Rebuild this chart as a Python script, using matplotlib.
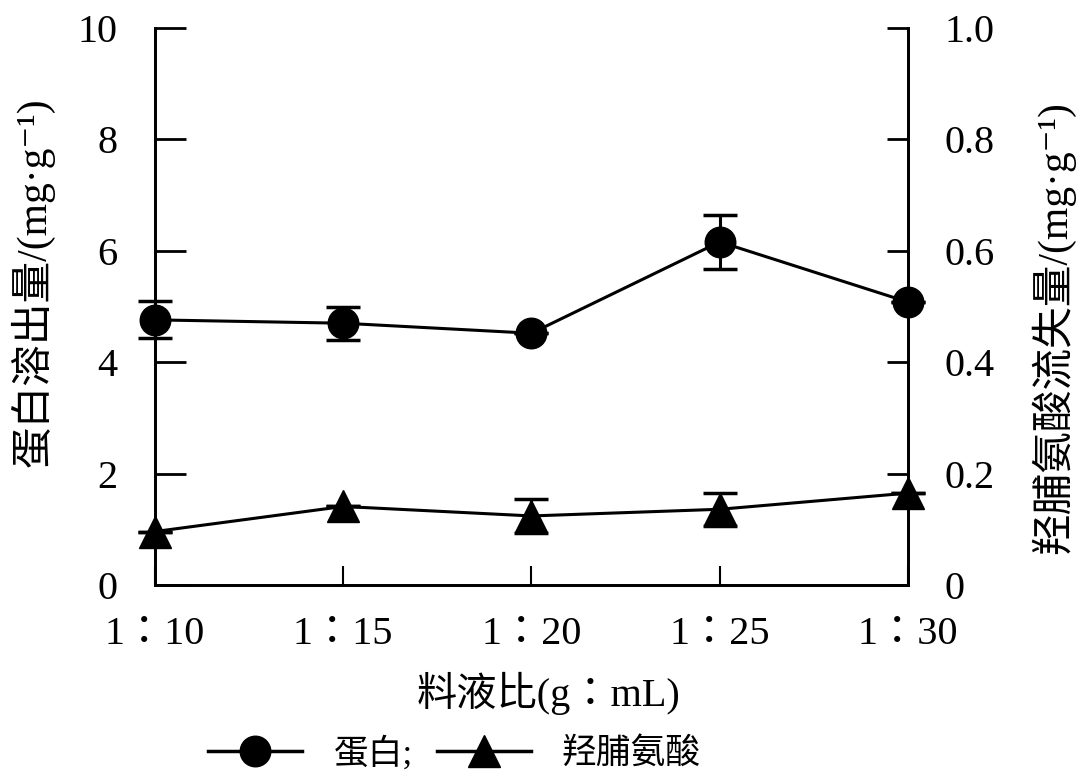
import matplotlib
matplotlib.use('Agg')
import matplotlib.pyplot as plt
from matplotlib.lines import Line2D
from matplotlib.transforms import ScaledTranslation

plt.rcParams['font.family'] = ['Liberation Serif', 'Noto Sans CJK SC', 'DejaVu Serif']
tc_fonts = ['Liberation Serif', 'Noto Sans CJK TC', 'DejaVu Serif']  # centred full-width colon

# data
ratios = ['1：10', '1：15', '1：20', '1：25', '1：30']
protein = [4.76, 4.70, 4.52, 6.16, 5.08]          # mg/g, left axis
protein_err = [0.33, 0.30, 0.0, 0.49, 0.0]
hyp = [0.096, 0.141, 0.124, 0.136, 0.165]          # mg/g, right axis
hyp_err = [0.0, 0.0, 0.03, 0.03, 0.0]

left_ticks = [0, 2, 4, 6, 8, 10]
right_ticks = [0, 0.2, 0.4, 0.6, 0.8, 1.0]
right_ticklabels = ['0', '0.2', '0.4', '0.6', '0.8', '1.0']

fig = plt.figure(figsize=(10.8, 7.84), dpi=100)
ax = fig.add_axes([0.1435, 0.2538, 0.6972, 0.7105])
ax2 = ax.twinx()

x = list(range(len(ratios)))

l1 = ax.errorbar(x, protein, yerr=protein_err, color='black', lw=2.2, marker='o',
                 markersize=22, capsize=12, capthick=2.5, elinewidth=2.2, zorder=3)
l2 = ax2.errorbar(x, hyp, yerr=hyp_err, color='black', lw=2.2, marker='^',
                  markersize=23, capsize=12, capthick=2.5, elinewidth=2.2, zorder=3)
for cont in (l1, l2):
    for art in cont.get_children():
        art.set_clip_on(False)

ax.set_xlim(0, 4)
ax.set_ylim(0, 10)
ax2.set_ylim(0, 1.0)

ax.set_xticks(x)
ax.set_xticklabels(ratios, family=tc_fonts)
ax.set_yticks(left_ticks)
ax.set_yticklabels([str(t) for t in left_ticks])
ax2.set_yticks(right_ticks)
ax2.set_yticklabels(right_ticklabels)

# the original tick labels sit a little right of the ticks
shift = ScaledTranslation(0.09, 0, fig.dpi_scale_trans)
for lab in ax.get_xticklabels():
    lab.set_transform(lab.get_transform() + shift)

for a in (ax, ax2):
    a.spines['top'].set_visible(False)
    for s in ('left', 'right', 'bottom'):
        a.spines[s].set_linewidth(2.0)

ax.tick_params(axis='y', direction='in', length=22, width=2, labelsize=29, pad=27)
ax.tick_params(axis='x', direction='in', length=14, width=1.5, labelsize=29, pad=22)
ax2.tick_params(axis='y', direction='in', length=15, width=2, labelsize=29, pad=26)

ax.set_xlabel('料液比(g：mL)', fontsize=29, family=tc_fonts)
ax.xaxis.set_label_coords(0.522, -0.155)
ax.set_ylabel('蛋白溶出量/(mg·g⁻¹)', fontsize=30)
ax2.set_ylabel('羟脯氨酸流失量/(mg·g⁻¹)', fontsize=30)
ax.yaxis.set_label_coords(-0.133, 0.544)
ax2.yaxis.set_label_coords(1.163, 0.463)

handles = [Line2D([], [], color='black', lw=2.5, marker='o', markersize=22),
           Line2D([], [], color='black', lw=2.5, marker='^', markersize=23)]
fig.legend(handles, ['蛋白;', '羟脯氨酸'], loc='center', bbox_to_anchor=(0.421, 1 - 754 / 784),
           ncol=2, frameon=False, fontsize=25, handlelength=2.7, columnspacing=0.7,
           handletextpad=0.9)

fig.savefig('out.png', dpi=100)
